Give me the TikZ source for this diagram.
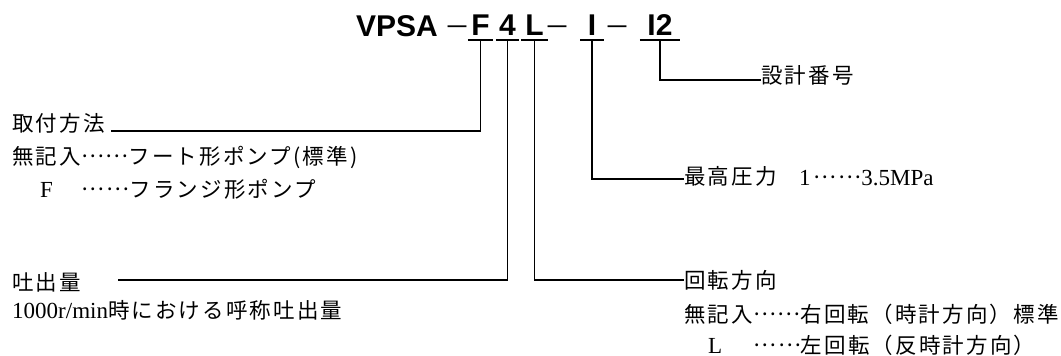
\documentclass[tikz,border=0pt]{standalone}
\usepackage{fontspec}
\setmainfont{Liberation Serif}
\newfontfamily\jp[LetterSpace=10]{Noto Sans CJK JP}
\newfontfamily\jpplain{Noto Sans CJK JP}
\newfontfamily\titlefont{Liberation Sans}
\usetikzlibrary{positioning}
\newcommand{\latn}[1]{{\rmfamily\fontsize{23}{24}\selectfont #1}}
\newcommand{\mdots}{\raisebox{0.3em}{……}}

\begin{document}
\begin{tikzpicture}[x=1pt, y=1pt,
        code/.style={font=\titlefont\bfseries\fontsize{30}{30}\selectfont, inner xsep=0pt, inner ysep=4pt, text depth=0pt, anchor=south, minimum width=#1},
        head/.style={font=\titlefont\bfseries\fontsize{30}{30}\selectfont, inner sep=0pt},
        hyph/.style={font=\jpplain\fontsize{26}{26}\selectfont, inner sep=0pt, anchor=base},
        note/.style={font=\jp\fontsize{21.5}{24}\selectfont, inner sep=0pt},
        wire/.style={line width=1.4pt}
    ]
    \useasboundingbox (0,0) rectangle (1061,-356);

    % 型式
    \node[head, anchor=base east] (vpsa) at (438,-36) {VPSA};
    \node[hyph] (h1) at (457,-36) {－};
    \node[code=25pt] (cF) at (480.5,-40) {F};
    \node[code=23pt] (c4) at (507.5,-40) {4};
    \node[code=26pt] (cL) at (534.5,-40) {L};
    \node[hyph] (h2) at (557,-36) {－};
    \node[code=23pt] (cI) at (592,-40) {I};
    \node[hyph] (h3) at (617,-36) {－};
    \node[code=40pt] (c12) at (660,-40) {I2};

    \foreach \c in {cF,c4,cL,cI,c12}
        \draw[wire] (\c.south west) -- (\c.south east);

    % 説明
    \node[note, anchor=base west] (mount) at (12,-131) {取付方法};
    \node[note, anchor=base west] (mount1) at (12,-164) {無記入\mdots フート形ポンプ(標準)};
    \node[note, anchor=base west] (mount2) at (40,-197) {\latn{F}\hspace{29pt}\mdots フランジ形ポンプ};
    \node[note, anchor=west] (flow) at (12,-282) {吐出量};
    \node[note, anchor=base west] (flow1) at (12,-318) {\latn{1000r/min}時における呼称吐出量};

    \node[note, anchor=west] (num) at (761,-75) {設計番号};
    \node[note, anchor=west] (press) at (684,-176) {最高圧力};
    \node[note, anchor=base west] (pval) at (799,-185) {\latn{1}\hspace{3pt}\mdots\latn{3.5MPa}};
    \node[note, anchor=west] (rot) at (684,-280) {回転方向};
    \node[note, anchor=base west] (rot1) at (684,-322) {無記入\mdots 右回転（時計方向）標準};
    \node[note, anchor=base west] (rot2) at (708,-353) {\latn{L}\hspace{31pt}\mdots 左回転（反時計方向）};

    % 引出線
    \draw[wire] (cF.south) |- ([xshift=6pt]mount.base east);
    \draw[wire] (c4.south) |- ([xshift=37pt,yshift=2pt]flow.east);
    \draw[wire] (cL.south) |- (rot.west);
    \draw[wire] (cI.south) |- ([yshift=-3pt]press.west);
    \draw[wire] (c12.south) |- ([yshift=-5pt]num.west);

\end{tikzpicture}
\end{document}
